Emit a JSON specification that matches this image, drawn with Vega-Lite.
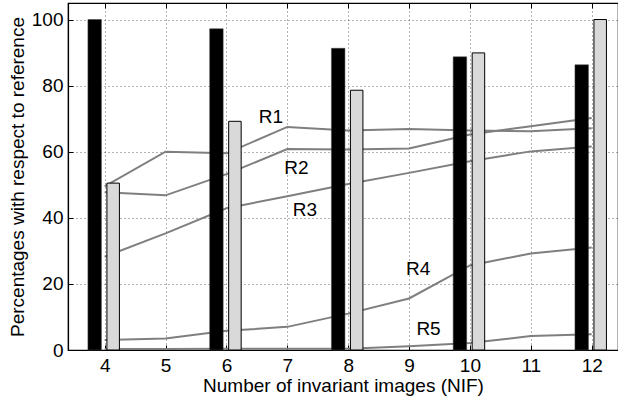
{
  "$schema": "https://vega.github.io/schema/vega-lite/v6.json",
  "width": 550,
  "height": 347,
  "autosize": {"type": "none"},
  "padding": {"left": 68, "top": 3, "right": 0, "bottom": 51},
  "background": "white",
  "view": {"stroke": "black", "strokeWidth": 1.2},
  "config": {
    "font": "Liberation Sans",
    "axis": {"labelFont": "Liberation Sans", "titleFont": "Liberation Sans", "labelColor": "black", "titleColor": "black", "titleFontWeight": "normal"}
  },
  "datasets": {
    "bars": [
      {"N": 4, "series": "A", "value": 100},
      {"N": 6, "series": "A", "value": 97.2},
      {"N": 8, "series": "A", "value": 91.3},
      {"N": 10, "series": "A", "value": 88.7},
      {"N": 12, "series": "A", "value": 86.3},
      {"N": 4, "series": "B", "value": 50.5},
      {"N": 6, "series": "B", "value": 69.2},
      {"N": 8, "series": "B", "value": 78.6},
      {"N": 10, "series": "B", "value": 89.9},
      {"N": 12, "series": "B", "value": 100}
    ],
    "lines": [
      {"N": 4, "r": "R1", "v": 49.5}, {"N": 5, "r": "R1", "v": 60.0}, {"N": 6, "r": "R1", "v": 59.5}, {"N": 7, "r": "R1", "v": 67.5}, {"N": 8, "r": "R1", "v": 66.4}, {"N": 9, "r": "R1", "v": 66.9}, {"N": 10, "r": "R1", "v": 66.4}, {"N": 11, "r": "R1", "v": 66.2}, {"N": 12, "r": "R1", "v": 67.1},
      {"N": 4, "r": "R2", "v": 47.7}, {"N": 5, "r": "R2", "v": 46.8}, {"N": 6, "r": "R2", "v": 53.2}, {"N": 7, "r": "R2", "v": 60.8}, {"N": 8, "r": "R2", "v": 60.7}, {"N": 9, "r": "R2", "v": 61.0}, {"N": 10, "r": "R2", "v": 65.2}, {"N": 11, "r": "R2", "v": 67.7}, {"N": 12, "r": "R2", "v": 70.2},
      {"N": 4, "r": "R3", "v": 28.2}, {"N": 5, "r": "R3", "v": 35.3}, {"N": 6, "r": "R3", "v": 42.9}, {"N": 7, "r": "R3", "v": 46.5}, {"N": 8, "r": "R3", "v": 50.2}, {"N": 9, "r": "R3", "v": 53.6}, {"N": 10, "r": "R3", "v": 57.1}, {"N": 11, "r": "R3", "v": 60.1}, {"N": 12, "r": "R3", "v": 61.6},
      {"N": 4, "r": "R4", "v": 3.0}, {"N": 5, "r": "R4", "v": 3.5}, {"N": 6, "r": "R4", "v": 5.8}, {"N": 7, "r": "R4", "v": 7.0}, {"N": 8, "r": "R4", "v": 11.0}, {"N": 9, "r": "R4", "v": 15.6}, {"N": 10, "r": "R4", "v": 25.6}, {"N": 11, "r": "R4", "v": 29.2}, {"N": 12, "r": "R4", "v": 31.0},
      {"N": 4, "r": "R5", "v": 0.3}, {"N": 5, "r": "R5", "v": 0.3}, {"N": 6, "r": "R5", "v": 0.4}, {"N": 7, "r": "R5", "v": 0.4}, {"N": 8, "r": "R5", "v": 0.4}, {"N": 9, "r": "R5", "v": 1.1}, {"N": 10, "r": "R5", "v": 2.1}, {"N": 11, "r": "R5", "v": 4.2}, {"N": 12, "r": "R5", "v": 4.8}
    ],
    "labels": [
      {"N": 6.73, "v": 70.6, "label": "R1"},
      {"N": 7.15, "v": 55.0, "label": "R2"},
      {"N": 7.29, "v": 42.5, "label": "R3"},
      {"N": 9.15, "v": 24.6, "label": "R4"},
      {"N": 9.32, "v": 6.4, "label": "R5"}
    ]
  },
  "resolve": {"axis": {"x": "independent", "y": "independent"}},
  "layer": [
    {
      "data": {"name": "lines"},
      "mark": {"type": "line", "color": "#7f7f7f", "strokeWidth": 2, "clip": true},
      "encoding": {
        "x": {"field": "N", "type": "quantitative", "scale": {"domain": [3.48, 12.35], "nice": false, "zero": false},
              "axis": {"orient": "bottom", "values": [4,5,6,7,8,9,10,11,12], "ticks": false, "domain": true, "domainColor": "black", "domainWidth": 1.2,
                       "grid": true, "gridColor": "#000", "gridOpacity": 0.6, "gridDash": [1, 3], "gridWidth": 1,
                       "labelFontSize": 19, "labelPadding": 6, "title": "Number of invariant images (NIF)", "titleFontSize": 19, "titlePadding": 1}},
        "y": {"field": "v", "type": "quantitative", "scale": {"domain": [0, 105], "nice": false},
              "axis": {"orient": "left", "values": [0,20,40,60,80,100], "ticks": false, "domain": true, "domainColor": "black", "domainWidth": 1.2,
                       "grid": true, "gridColor": "#000", "gridOpacity": 0.6, "gridDash": [1, 3], "gridWidth": 1,
                       "labelFontSize": 19, "labelPadding": 5, "title": "Percentages with respect to reference", "titleFontSize": 19, "titlePadding": 4}},
        "detail": {"field": "r", "type": "nominal"}
      }
    },
    {
      "data": {"name": "bars"},
      "transform": [{"filter": "datum.series === 'A'"}],
      "mark": {"type": "bar", "color": "black", "width": 13.5, "xOffset": -10, "stroke": "#444", "strokeWidth": 0.5},
      "encoding": {
        "x": {"field": "N", "type": "quantitative",
              "axis": {"orient": "bottom", "values": [4,5,6,7,8,9,10,11,12], "offset": -5, "tickSize": 5, "tickColor": "black", "labels": false, "domain": false, "grid": false, "title": null}},
        "y": {"field": "value", "type": "quantitative",
              "axis": {"orient": "left", "values": [0,20,40,60,80,100], "offset": -5, "tickSize": 5, "tickColor": "black", "labels": false, "domain": false, "grid": false, "title": null}}
      }
    },
    {
      "data": {"name": "bars"},
      "transform": [{"filter": "datum.series === 'B'"}],
      "mark": {"type": "bar", "color": "#d9d9d9", "width": 12.5, "xOffset": 8.5, "stroke": "black", "strokeWidth": 1},
      "encoding": {
        "x": {"field": "N", "type": "quantitative",
              "axis": {"orient": "top", "values": [4,5,6,7,8,9,10,11,12], "offset": -5, "tickSize": 5, "tickColor": "black", "labels": false, "domain": false, "grid": false, "title": null}},
        "y": {"field": "value", "type": "quantitative", "axis": null}
      }
    },
    {
      "data": {"name": "labels"},
      "mark": {"type": "text", "fontSize": 19, "font": "Liberation Sans", "color": "black", "align": "center", "baseline": "middle"},
      "encoding": {
        "x": {"field": "N", "type": "quantitative", "axis": null},
        "y": {"field": "v", "type": "quantitative", "axis": null},
        "text": {"field": "label"}
      }
    }
  ]
}
